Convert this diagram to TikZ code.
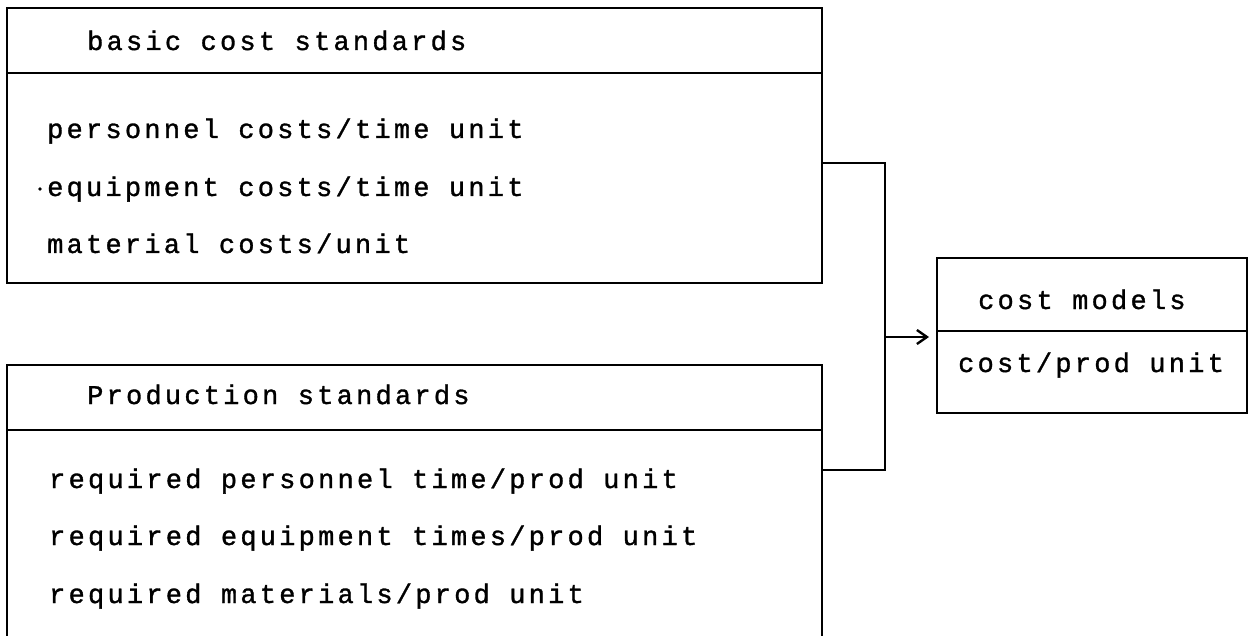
\documentclass[tikz,border=0pt]{standalone}
\usepackage{fontspec}
\setmonofont[LetterSpace=12,FakeBold=1.2]{Liberation Mono}
\usetikzlibrary{arrows.meta}
\begin{document}
\begin{tikzpicture}[x=1pt,y=-1pt,
  box/.style={draw, line width=2.8pt, rectangle, inner sep=0pt, outer sep=0pt, anchor=north west},
  txt/.style={anchor=base west, inner sep=0pt, font=\ttfamily\fontsize{27}{32}\selectfont},
  conn/.style={line width=2.8pt},
  arr/.style={line width=2.4pt, -{Straight Barb[length=10pt,width=14pt]}, shorten >=8pt}]
\useasboundingbox (0,0) rectangle (1250,636);
\node[box, minimum width=815pt, minimum height=275pt] (b1) at (7,8) {};
\node[box, minimum width=815pt, minimum height=285pt] (b2) at (7,365) {};
\node[box, minimum width=310pt, minimum height=155pt] (cm) at (937,258) {};
\draw[conn] (b1.west |- 0,73) -- (b1.east |- 0,73);
\draw[conn] (b2.west |- 0,430) -- (b2.east |- 0,430);
\draw[conn] (cm.west |- 0,331) -- (cm.east |- 0,331);
\node[txt] (h1) at (87,50) {basic cost standards};
\node[txt] (r1) at (47,138) {personnel costs/time unit};
\node[txt] (r2) at (47,196) {equipment costs/time unit};
\fill (40,189) circle (1.8pt);
\node[txt] (r3) at (47,253) {material costs/unit};
\node[txt] (h2) at (87,404) {Production standards};
\node[txt] (p1) at (49,488) {required personnel time/prod unit};
\node[txt] (p2) at (49,545) {required equipment times/prod unit};
\node[txt] (p3) at (49,603) {required materials/prod unit};
\node[txt] (c1) at (978,309) {cost models};
\node[txt] (c2) at (958,372) {cost/prod unit};
\coordinate (bus) at (885,337);
\draw[conn] (b1.east |- 0,163) -- (bus |- 0,163) -- (bus |- 0,470) -- (b2.east |- 0,470);
\draw[arr] (bus) -- (cm.west |- bus);
\end{tikzpicture}
\end{document}
